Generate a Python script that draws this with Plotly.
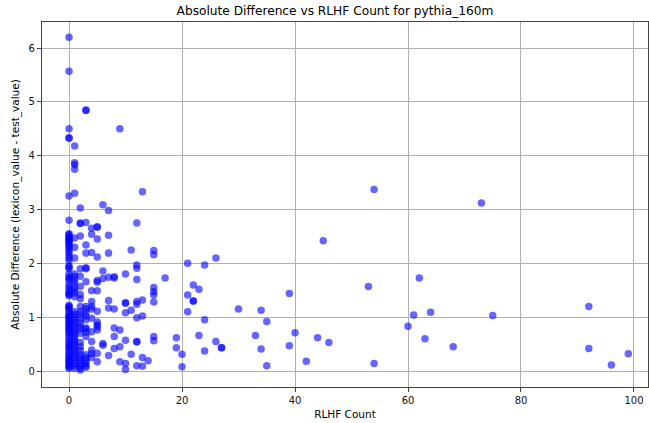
import plotly.graph_objects as go

# RLHF count -> list of absolute differences observed at that count
rlhf_counts = [0, 1, 2, 3, 4, 5, 6, 7, 8, 9, 10, 11, 12, 13, 14, 15, 17, 19, 20, 21, 22, 23, 24, 26, 27,
               30, 33, 34, 35, 39, 40, 42, 44, 45, 46, 53, 54, 60, 61, 62, 63, 64, 68, 73, 75, 92, 96, 99]

abs_diffs = [
    [6.2, 5.57, 4.5, 4.33, 4.33, 3.25, 2.8, 2.55, 2.53, 2.5, 2.47, 2.45, 2.42, 2.4, 2.37, 2.33, 2.3, 2.25,
     2.2, 2.15, 2.1, 2.05, 1.95, 1.93, 1.9, 1.8, 1.75, 1.72, 1.68, 1.6, 1.55, 1.5, 1.45, 1.42, 1.4, 1.22,
     1.2, 1.18, 1.15, 1.1, 1.05, 1.02, 1.0, 0.97, 0.93, 0.9, 0.87, 0.83, 0.8, 0.77, 0.73, 0.7, 0.65, 0.6,
     0.55, 0.5, 0.47, 0.43, 0.4, 0.35, 0.3, 0.27, 0.23, 0.2, 0.17, 0.13, 0.1, 0.07, 0.05],
    [4.18, 3.87, 3.83, 3.75, 3.3, 2.47, 2.3, 2.1, 1.8, 1.75, 1.68, 1.63, 1.55, 1.5, 1.45, 1.38, 1.1, 1.05,
     1.0, 0.95, 0.9, 0.85, 0.8, 0.75, 0.7, 0.65, 0.6, 0.55, 0.5, 0.45, 0.4, 0.35, 0.3, 0.25, 0.2, 0.15,
     0.1, 0.05],
    [3.03, 2.75, 2.74, 2.51, 1.9, 1.76, 1.57, 1.42, 1.34, 1.2, 1.1, 1.05, 0.97, 0.9, 0.83, 0.78, 0.7,
     0.53, 0.45, 0.38, 0.3, 0.25, 0.2, 0.15, 0.1, 0.05, 0.02],
    [4.85, 4.84, 2.76, 2.34, 2.19, 1.92, 1.9, 1.66, 1.2, 1.15, 1.08, 1.02, 0.95, 0.8, 0.78, 0.72, 0.64,
     0.3, 0.25, 0.2, 0.15, 0.1, 0.07],
    [2.65, 2.54, 2.2, 1.49, 1.29, 1.2, 1.15, 0.98, 0.73, 0.55, 0.39, 0.32, 0.25],
    [2.68, 2.67, 2.45, 2.12, 1.68, 1.65, 1.49, 1.11, 0.91, 0.86, 0.82, 0.76, 0.33, 0.17],
    [3.09, 1.86, 1.72, 0.51, 0.48],
    [2.98, 2.52, 2.19, 1.74, 1.31, 1.17, 0.29],
    [1.75, 1.73, 1.15, 0.8, 0.64, 0.42],
    [4.5, 0.76, 0.45, 0.17],
    [1.8, 1.27, 1.26, 1.08, 0.57, 0.14, 0.03],
    [2.25, 1.13, 0.31],
    [2.75, 1.97, 1.91, 1.7, 1.29, 1.24, 0.99, 0.55, 0.54, 0.1],
    [3.33, 1.32, 1.02, 0.25, 0.09],
    [0.19],
    [2.24, 2.16, 1.55, 1.47, 1.41, 1.28, 0.64, 0.56],
    [1.73],
    [0.62, 0.43],
    [0.31, 0.08],
    [2.0, 1.41, 1.1],
    [1.6, 1.3, 1.3],
    [1.52, 0.66],
    [1.97, 0.95, 0.37],
    [2.1, 0.55],
    [0.43, 0.43],
    [1.15],
    [0.66],
    [1.13, 0.41],
    [0.92, 0.1],
    [1.44, 0.47],
    [0.71],
    [0.18],
    [0.62],
    [2.42],
    [0.53],
    [1.57],
    [3.37, 0.14],
    [0.83],
    [1.04],
    [1.73],
    [0.6],
    [1.09],
    [0.45],
    [3.12],
    [1.03],
    [1.2, 0.42],
    [0.11],
    [0.32],
]

title_text = "Absolute Difference vs RLHF Count for pythia_160m"
x_label = "RLHF Count"
y_label = "Absolute Difference (lexicon_value - test_value)"
x_ticks = [0, 20, 40, 60, 80, 100]
y_ticks = [0, 1, 2, 3, 4, 5, 6]

xs, ys = [], []
for c, vals in zip(rlhf_counts, abs_diffs):
    for v in vals:
        xs.append(c)
        ys.append(v)

FONT = "DejaVu Sans"

fig = go.Figure()
fig.add_trace(go.Scatter(
    x=xs, y=ys, mode="markers",
    marker=dict(size=7.5, color="rgb(0,0,255)", opacity=0.6, line=dict(width=0)),
    showlegend=False,
))

axis_common = dict(
    showgrid=True, gridcolor="#b0b0b0", gridwidth=0.8,
    showline=True, linecolor="#444", linewidth=1.2, mirror=True,
    ticks="outside", ticklen=4, tickwidth=1, tickcolor="#444",
    zeroline=False, automargin=False,
    tickfont=dict(family=FONT, size=10, color="#111"),
)

fig.update_layout(
    width=649, height=423,
    margin=dict(l=42, r=1, t=22, b=36, autoexpand=False),
    paper_bgcolor="white", plot_bgcolor="white",
    font=dict(family=FONT, color="black"),
    title=dict(text=title_text, x=(335 - 42) / 606, xref="paper", xanchor="center",
               y=1 - 11 / 423, yref="container", yanchor="middle",
               font=dict(family=FONT, size=12.2, color="black")),
    xaxis=dict(range=[-4.78, 102.48], tickvals=x_ticks,
               title=dict(text=x_label, font=dict(family=FONT, size=10.5), standoff=5),
               **axis_common),
    yaxis=dict(range=[-0.297, 6.483], tickvals=y_ticks,
               title=dict(text=y_label, font=dict(family=FONT, size=10.5), standoff=6),
               **axis_common),
)

fig.write_html(
    "out.html",
    config={"displayModeBar": False},
    post_script="document.body.style.margin='0';document.body.style.overflow='hidden';",
)
